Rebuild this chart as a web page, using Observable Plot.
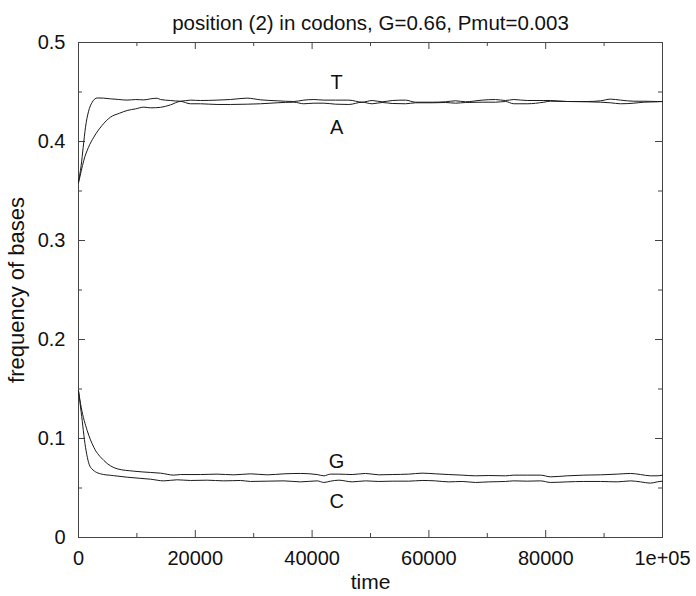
<!DOCTYPE html>
<html>
<head>
<meta charset="utf-8">
<script src="https://cdn.jsdelivr.net/npm/d3@7"></script>
<script src="https://cdn.jsdelivr.net/npm/@observablehq/plot@0.6"></script>
<style>
  html, body { margin: 0; padding: 0; background: #fff; }
  #chart svg { display: block; }
</style>
</head>
<body>
<div id="chart"></div>
<script>
// ---- data ----
const titleText = "position (2) in codons, G=0.66, Pmut=0.003";
const xLabel = "time";
const yLabel = "frequency of bases";

const xMajor = [0, 20000, 40000, 60000, 80000, 100000];
const xMinor = [10000, 30000, 50000, 70000, 90000];
const yMajor = [0, 0.1, 0.2, 0.3, 0.4, 0.5];
const yMinor = [0.05, 0.15, 0.25, 0.35, 0.45];

const tT = [0,200,460,800,1200,1700,2350,3200,4300,5480,6800,8330,9800,11190,12330,13470,14040,15750,17470,19180,20890,23740,26030,28880,31160,34020,36870,38580,40300,42010,44010,46290,48580,50290,52000,53710,55990,57710,60560,62840,64550,66270,69120,71400,73120,74540,76830,79680,80820,83680,87100,89380,91100,92810,95090,96800,99090,100000];
const vT = [0.360,0.366,0.376,0.394,0.4145,0.430,0.4397,0.4440,0.4438,0.4431,0.4425,0.4418,0.4424,0.4420,0.4431,0.4437,0.4424,0.4414,0.4407,0.4418,0.4414,0.4418,0.4424,0.4438,0.4421,0.4411,0.4404,0.4418,0.4424,0.4418,0.4418,0.4418,0.4397,0.4414,0.4401,0.4414,0.4418,0.4397,0.4397,0.4401,0.4411,0.4401,0.4418,0.4424,0.4414,0.4424,0.4414,0.4414,0.4414,0.4404,0.4404,0.4411,0.4428,0.4418,0.4407,0.4407,0.4404,0.4404];

const tA = [0,460,910,1700,2620,4000,5480,7000,8330,9800,11190,12330,14040,15750,17470,19180,20890,23740,26030,28880,31160,34020,36870,38580,40300,42010,44010,46290,48580,50290,52000,53710,55990,57710,60560,62840,64550,66270,69120,71400,73120,74540,76830,79680,80820,83680,87100,89380,91100,92810,95090,96800,99090,100000];
const vA = [0.358,0.370,0.381,0.394,0.4044,0.416,0.4246,0.4285,0.4313,0.4330,0.4347,0.4340,0.4345,0.4370,0.4405,0.4381,0.4381,0.4374,0.4374,0.4377,0.4381,0.4391,0.4397,0.4381,0.4387,0.4387,0.4377,0.4374,0.4397,0.4381,0.4394,0.4384,0.4381,0.4391,0.4391,0.4394,0.4387,0.4394,0.4397,0.4397,0.4404,0.4381,0.4381,0.4397,0.4407,0.4404,0.4401,0.4397,0.4391,0.4381,0.4387,0.4397,0.4401,0.4404];

const tG = [0,460,1490,2620,4340,6620,9470,12330,14040,16320,17470,20890,23740,26600,29450,32310,35160,38010,40870,42010,43150,44580,46860,49140,51430,53710,56560,58850,61130,63410,65700,67980,70260,73120,74540,76830,79110,80820,83680,86530,89380,92240,94520,96230,97950,99090,100000];
const vG = [0.148,0.1316,0.108,0.0912,0.0778,0.0694,0.0670,0.0657,0.0650,0.0630,0.0636,0.0636,0.0640,0.0633,0.0643,0.0633,0.0643,0.0647,0.0636,0.0623,0.0640,0.0640,0.0636,0.0647,0.0633,0.0636,0.0640,0.0650,0.0643,0.0636,0.0630,0.0623,0.0626,0.0623,0.0630,0.0630,0.0630,0.0613,0.0623,0.0630,0.0633,0.0640,0.0647,0.0636,0.0623,0.0623,0.0630];

const tC = [0,460,1200,2050,3770,6000,8330,10500,12330,14610,16900,19180,22030,24890,27740,29450,32310,35160,38010,40870,42010,43150,44580,46860,49140,51430,53710,56560,58850,61130,63410,65700,67980,70260,73120,74540,76830,79110,80820,83680,86530,89380,92240,94520,96230,97950,99090,100000];
const vC = [0.148,0.1266,0.0912,0.0710,0.0643,0.0625,0.0609,0.0598,0.0589,0.0572,0.0583,0.0576,0.0579,0.0572,0.0576,0.0566,0.0569,0.0572,0.0562,0.0572,0.0556,0.0569,0.0579,0.0562,0.0572,0.0566,0.0569,0.0569,0.0576,0.0572,0.0562,0.0566,0.0556,0.0562,0.0566,0.0572,0.0569,0.0572,0.0556,0.0562,0.0566,0.0566,0.0562,0.0572,0.0562,0.0549,0.0562,0.0569];

const labelNames = ["T", "A", "G", "C"];
const labelX = [44200, 44200, 44200, 44200];
const labelY = [0.4591, 0.4136, 0.0763, 0.0364];

// ---- build tables ----
const series = [["T", tT, vT], ["A", tA, vA], ["G", tG, vG], ["C", tC, vC]];
const rows = series.flatMap(([name, ts, vs]) => ts.map((t, i) => ({name, t, v: vs[i]})));
const labels = labelNames.map((n, i) => ({n, t: labelX[i], v: labelY[i]}));

const W = 696, H = 596;
const mL = 78, mR = 34, mT = 42, mB = 59;
const innerH = H - mT - mB;
const innerW = W - mL - mR;
const majorLen = 7, minorLen = 4;
const ink = "#1a1a1a";

const fmtX = d => d === 100000 ? "1e+05" : String(d);
const fmtY = d => d === 0 ? "0" : String(+d.toFixed(2));

const chart = Plot.plot({
  width: W, height: H,
  marginLeft: mL, marginRight: mR, marginTop: mT, marginBottom: mB,
  style: {fontFamily: "'Liberation Sans', Arial, Helvetica, sans-serif", fontSize: "20px", color: "#111", background: "#fff"},
  x: {domain: [0, 100000], ticks: xMajor, tickFormat: fmtX, tickSize: 0, tickPadding: 13, label: null},
  y: {domain: [0, 0.5], ticks: yMajor, tickFormat: fmtY, tickSize: 0, tickPadding: 13, label: null},
  marks: [
    // inward ticks, gnuplot style, on all four sides
    Plot.ruleX(xMajor, {x: d => d, insetTop: innerH - majorLen, stroke: "#444"}),
    Plot.ruleX(xMajor, {x: d => d, insetBottom: innerH - majorLen, stroke: "#444"}),
    Plot.ruleX(xMinor, {x: d => d, insetTop: innerH - minorLen, stroke: "#444"}),
    Plot.ruleX(xMinor, {x: d => d, insetBottom: innerH - minorLen, stroke: "#444"}),
    Plot.ruleY(yMajor, {y: d => d, insetRight: innerW - majorLen, stroke: "#444"}),
    Plot.ruleY(yMajor, {y: d => d, insetLeft: innerW - majorLen, stroke: "#444"}),
    Plot.ruleY(yMinor, {y: d => d, insetRight: innerW - minorLen, stroke: "#444"}),
    Plot.ruleY(yMinor, {y: d => d, insetLeft: innerW - minorLen, stroke: "#444"}),
    Plot.frame({stroke: "#444", strokeWidth: 1}),
    Plot.line(rows, {x: "t", y: "v", z: "name", stroke: ink, strokeWidth: 1, curve: "monotone-x"}),
    Plot.text(labels, {x: "t", y: "v", text: "n", fontSize: 20, fill: "#111"}),
    Plot.text([titleText], {frameAnchor: "top", textAnchor: "middle", dy: -27, fontSize: 20.5, fill: "#111"}),
    Plot.text([xLabel], {frameAnchor: "bottom", textAnchor: "middle", dy: 51, fontSize: 21, fill: "#111"}),
    Plot.text([yLabel], {frameAnchor: "left", textAnchor: "middle", dx: -62, rotate: -90, fontSize: 22, fill: "#111"})
  ]
});
document.getElementById("chart").appendChild(chart);
</script>
</body>
</html>
